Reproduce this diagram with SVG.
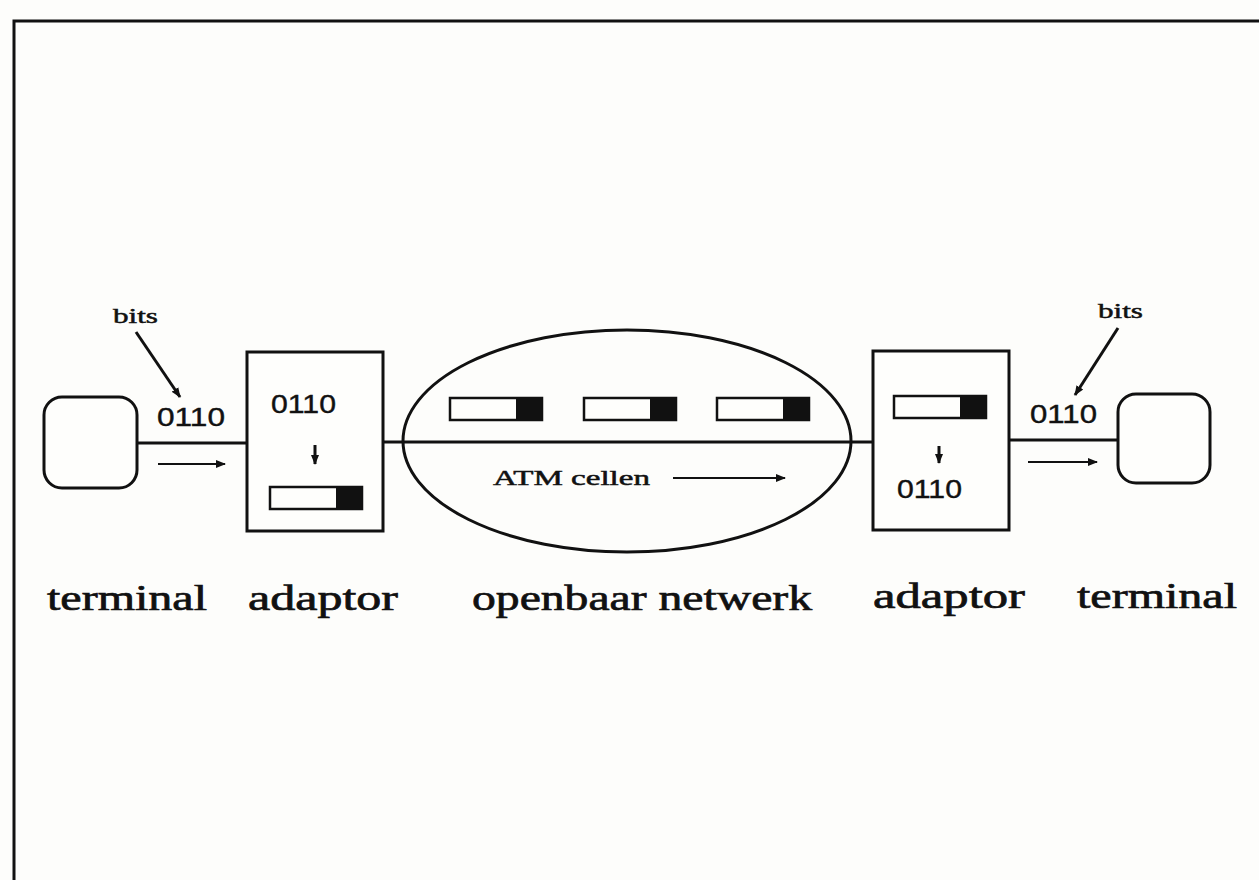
<svg xmlns="http://www.w3.org/2000/svg" width="1259" height="880" viewBox="0 0 1259 880">
  <style>
    .ln { stroke: #111; stroke-width: 3; fill: none; }
    .box { stroke: #111; stroke-width: 3; fill: #fefefc; }
    .thin { stroke: #111; stroke-width: 2.2; fill: none; }
    .bin { font-family: "Liberation Sans", Arial, sans-serif; font-size: 26px; fill: #111; stroke: #111; stroke-width: 0.4; }
    .small { font-family: "Liberation Serif", "Times New Roman", serif; font-size: 22px; fill: #111; stroke: #111; stroke-width: 0.5; }
    .lbl { font-family: "Liberation Serif", "Times New Roman", serif; font-size: 36px; fill: #111; stroke: #111; stroke-width: 0.7; }
    .cellw { stroke: #111; stroke-width: 2.5; fill: #fefefc; }
    .cellb { fill: #111; }
  </style>
  <defs>
    <marker id="ah" viewBox="0 0 10 10" refX="9" refY="5" markerWidth="10" markerHeight="10" markerUnits="userSpaceOnUse" orient="auto">
      <path d="M0,1 L10,5 L0,9 z" fill="#111"/>
    </marker>
    <g id="cell">
      <rect class="cellw" x="0" y="0" width="92" height="22"/>
      <rect class="cellb" x="66" y="0" width="26" height="22"/>
    </g>
  </defs>
  <rect x="0" y="0" width="1259" height="880" fill="#fdfdfb"/>
  <g id="frame">
    <path class="ln" d="M14,880 L14,21 L1259,21"/>
  </g>

  <g id="connectors">
    <line class="ln" x1="137" y1="443" x2="247" y2="443"/>
    <line class="ln" x1="383" y1="442" x2="873" y2="442"/>
    <line class="ln" x1="1009" y1="440" x2="1118" y2="440"/>
    <line class="thin" x1="158" y1="464" x2="225" y2="464" marker-end="url(#ah)"/>
    <line class="thin" x1="1028" y1="462" x2="1097" y2="462" marker-end="url(#ah)"/>
    <line class="ln" x1="136" y1="332" x2="180" y2="397" marker-end="url(#ah)"/>
    <line class="ln" x1="1118" y1="328" x2="1075" y2="395" marker-end="url(#ah)"/>
    <line class="thin" x1="673" y1="478" x2="785" y2="478" marker-end="url(#ah)"/>
  </g>

  <g id="terminal-left">
    <rect class="box" x="44" y="397" width="93" height="91" rx="18"/>
    <text class="lbl" x="47" y="610" textLength="160" lengthAdjust="spacingAndGlyphs">terminal</text>
  </g>
  <g id="bits-left">
    <text class="small" x="113" y="323" textLength="45" lengthAdjust="spacingAndGlyphs">bits</text>
    <text class="bin" x="157" y="426" textLength="68" lengthAdjust="spacingAndGlyphs">0110</text>
  </g>

  <g id="adaptor-left">
    <rect class="box" x="247" y="352" width="136" height="179"/>
    <text class="bin" x="271" y="413" textLength="65" lengthAdjust="spacingAndGlyphs">0110</text>
    <line class="ln" x1="315" y1="445" x2="315" y2="464" marker-end="url(#ah)"/>
    <use href="#cell" x="270" y="487"/>
    <text class="lbl" x="248" y="610" textLength="150" lengthAdjust="spacingAndGlyphs">adaptor</text>
  </g>

  <g id="network">
    <ellipse class="ln" cx="627" cy="441" rx="224" ry="111"/>
    <use href="#cell" x="450" y="398"/>
    <use href="#cell" x="584" y="398"/>
    <use href="#cell" x="717" y="398"/>
    <text class="small" x="493" y="485" textLength="157" lengthAdjust="spacingAndGlyphs">ATM cellen</text>
    <text class="lbl" x="472" y="610" textLength="340" lengthAdjust="spacingAndGlyphs">openbaar netwerk</text>
  </g>

  <g id="adaptor-right">
    <rect class="box" x="873" y="351" width="136" height="179"/>
    <use href="#cell" x="894" y="396"/>
    <line class="ln" x1="939" y1="446" x2="939" y2="463" marker-end="url(#ah)"/>
    <text class="bin" x="897" y="498" textLength="65" lengthAdjust="spacingAndGlyphs">0110</text>
    <text class="lbl" x="873" y="608" textLength="152" lengthAdjust="spacingAndGlyphs">adaptor</text>
  </g>

  <g id="bits-right">
    <text class="small" x="1098" y="318" textLength="45" lengthAdjust="spacingAndGlyphs">bits</text>
    <text class="bin" x="1030" y="423" textLength="67" lengthAdjust="spacingAndGlyphs">0110</text>
  </g>

  <g id="terminal-right">
    <rect class="box" x="1118" y="394" width="92" height="89" rx="18"/>
    <text class="lbl" x="1077" y="608" textLength="160" lengthAdjust="spacingAndGlyphs">terminal</text>
  </g>
</svg>
